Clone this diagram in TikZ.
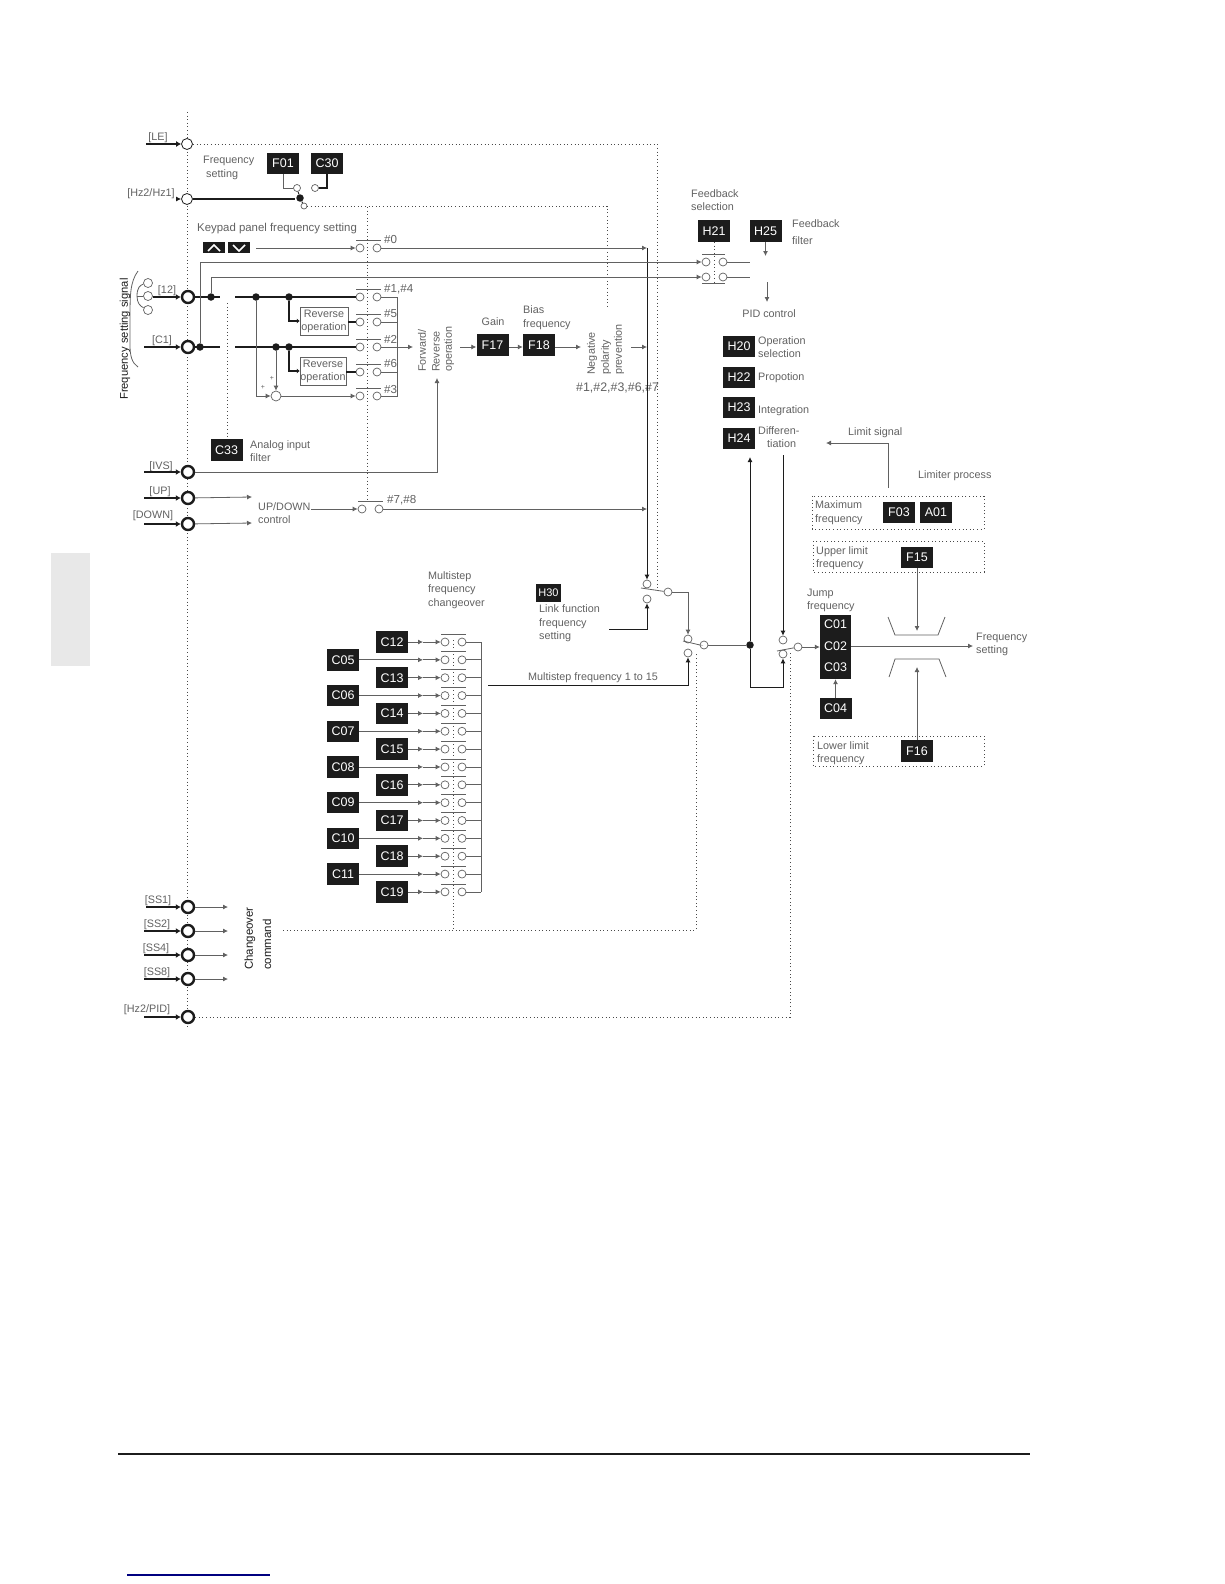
\documentclass[tikz,border=0pt]{standalone}
\usepackage{fontspec}
\setmainfont{Liberation Sans}
\usepackage{xcolor}
\usepackage{tikz}
\usetikzlibrary{arrows.meta,calc}
\definecolor{inkgray}{gray}{0.38}
\definecolor{boxblack}{gray}{0.11}
\tikzset{
  lbl/.style = {anchor=west, inner sep=0pt, align=left, text=inkgray, font=\fontsize{10.8}{13.5}\selectfont},
  tagtxt/.style = {lbl, font=\fontsize{11.6}{14}\selectfont},
  fbox/.style = {fill=boxblack, text=white, inner sep=0pt, minimum width=32pt, minimum height=21.5pt, font=\fontsize{12.5}{14}\selectfont},
  term/.style = {circle, draw=boxblack, fill=white, inner sep=0pt, minimum size=11pt, line width=.8pt},
  termb/.style = {term, line width=2.4pt, minimum size=12pt},
  hole/.style = {circle, draw=inkgray, fill=white, inner sep=0pt, minimum size=8pt, line width=.7pt},
  sdot/.style = {circle, fill=boxblack, inner sep=0pt, minimum size=7.5pt},
  wire/.style = {draw=inkgray, line width=.8pt},
  dark/.style = {draw=boxblack, line width=.9pt},
  feed/.style = {wire, -{Latex[length=5pt,width=5pt]}},
  darkfeed/.style = {dark, -{Latex[length=5pt,width=5pt]}},
  bus/.style = {draw=boxblack, line width=2.3pt},
  stub/.style = {draw=boxblack, line width=2.3pt, -{Latex[length=5pt,width=6pt]}},
  ctrl/.style = {draw=boxblack!80, line width=.8pt, dash pattern=on 1pt off 2.6pt},
  pics/contact/.style = {
    code = {
    \node[hole] (-a) at (0,0) {};
    \node[hole] (-b) at (17,0) {};
    \draw[wire] (-4,-8) -- (21,-8);
    }
  }
}
\begin{document}
\begin{tikzpicture}[x=1pt,y=-1pt]
\useasboundingbox (0,0) rectangle (1224,1584);

\fill[black!9] (50.5,553) rectangle (90,666);
\draw[boxblack, line width=1.1pt] (118,1454) -- (1030,1454);
\draw[blue!50!black, line width=1.1pt] (127,1575) -- (270,1575);

% control lines
\draw[ctrl] (187,112) -- (187,1030);
\draw[ctrl] (367,207) -- (367,502);
\draw[ctrl] (227,303) -- (227,439);
\draw[ctrl] (453,640) -- (453,930);

% input terminals
\foreach \name/\y in {LE/144,HZ/199}
  \node[term] (t\name) at (187,\y) {};
\foreach \name/\y in {TW/297,CI/347,IVS/472,UP/498,DN/524,SA/907,SB/931,SC/955,SD/979,PID/1017}
  \node[termb] (t\name) at (188,\y) {};

\foreach \name/\x/\y/\txt in {LE/158/138/{[LE]},HZ/151/194/{[Hz2/Hz1]},TW/167/291/{[12]},CI/162/341/{[C1]},IVS/161/467/{[IVS]},UP/160/492/{[UP]},DN/153/516/{[DOWN]},SA/158/901/{[SS1]},SB/157/925/{[SS2]},SC/156/949/{[SS4]},SD/157/973/{[SS8]},PID/147/1010/{[Hz2/PID]}}
  \node[lbl, anchor=center] (lab\name) at (\x,\y) {\txt};

\foreach \name/\x in {LE/146,TW/153,CI/144,IVS/144,UP/144,DN/144,SA/146,SB/144,SC/144,SD/144,PID/144}{
  \coordinate (in\name) at (\x,0 |- t\name);
  \draw[stub] (in\name) -- (t\name);
}
\coordinate (inHZ) at (176,199);
\draw[darkfeed] (inHZ) -- (tHZ);

% frequency setting selection
\node[lbl] (fsel) at (203,168) {Frequency\\ \ setting};
\node[fbox] (F01) at (283,163.5) {F01};
\node[fbox] (C30) at (327,163.5) {C30};
\node[hole, minimum size=7pt] (fa) at (297,188) {};
\node[hole, minimum size=7pt] (fb) at (315,188) {};
\node[hole, minimum size=6pt] (fc) at (304,206) {};
\node[sdot] (fj) at (300,198) {};
\coordinate (fin) at (295,199);
\draw[bus] (tHZ) -- (fin);
\draw[wire] (F01) |- (fa);
\draw[bus] (C30.south) |- (fb);
\draw[dark] (fj) -- (fc);
\draw[dark] (fj) -- (fa);
\coordinate (negtop) at (607,309);
\coordinate (levA) at (657,588);
\coordinate (levB) at (696,653);
\coordinate (levC) at (790,652);
\draw[ctrl] (fc) -| (negtop);
\draw[ctrl] (tLE) -| (levA);

% contacts
\foreach \name/\x/\y in {p0/360/248,p1/360/297,p5/360/322,p2/360/347,p6/360/372,p3/360/396,p7/362/509}
  \pic (\name) at (\x,\y) {contact};
\foreach \name/\y/\txt in {p0/240/{\#0},p1/289/{\#1,\#4},p5/314/{\#5},p2/339/{\#2},p6/364/{\#6},p3/390/{\#3}}
  \node[tagtxt] (tag\name) at (384,\y) {\txt};
\node[tagtxt] (tagp7) at (387,500) {\#7,\#8};

% keypad
\node[lbl, font=\fontsize{11.4}{14}\selectfont] (keytxt) at (197,229) {Keypad panel frequency setting};
\node[fbox, minimum width=22pt, minimum height=11pt] (keyup) at (214,247.5) {};
\node[fbox, minimum width=22pt, minimum height=11pt] (keydn) at (239,247.5) {};
\draw[white, line width=1.6pt] (208,251) -- (214,245) -- (220,251);
\draw[white, line width=1.6pt] (233,245) -- (239,251) -- (245,245);
\coordinate (keyout) at (256,248);
\draw[feed] (keyout) -- (p0-a);

% analog inputs
\node[hole, minimum size=9pt] (sg1) at (148,283) {};
\node[hole, minimum size=9pt] (sg2) at (148,296) {};
\node[hole, minimum size=9pt] (sg3) at (148,310) {};
\coordinate (sgfan) at (137,296);
\draw[wire] (sgfan) .. controls (137,288) and (140,285) .. (sg1);
\draw[wire] (sgfan) -- (sg2);
\draw[wire] (sgfan) .. controls (137,303) and (140,306) .. (sg3);
\draw[wire] (138,271) .. controls (130,282) and (130,295) .. (130,320) -- (130,345) .. controls (130,356) and (132,363) .. (138,367);
\node[lbl, rotate=90, text=boxblack, font=\fontsize{11.2}{14}\selectfont] (sigtxt) at (125,400) {Frequency setting signal};

\foreach \name/\x/\y in {j12/211/297,ja/256/297,jb/289/297,j1/200/347,jc/276/347,jd/289/347}
  \node[sdot] (\name) at (\x,\y) {};
\coordinate (twa) at (220,297);
\coordinate (twb) at (235,297);
\coordinate (cia) at (220,347);
\coordinate (cib) at (235,347);
\draw[bus] (tTW) -- (twa);
\draw[bus] (tCI) -- (cia);
\draw[bus] (twb) -- (p1-a);
\draw[bus] (cib) -- (p2-a);

\node[draw=inkgray, lbl, anchor=center, minimum width=48pt, minimum height=28pt, align=center, font=\fontsize{10.8}{13}\selectfont] (rev1) at (324,321) {Reverse\\operation};
\node[draw=inkgray, lbl, anchor=center, minimum width=46pt, minimum height=28pt, align=center, font=\fontsize{10.8}{13}\selectfont] (rev2) at (323,371) {Reverse\\operation};
\draw[bus, -{Latex[length=3pt,width=5pt]}] (jb) |- (rev1);
\draw[bus, -{Latex[length=3pt,width=5pt]}] (jd) |- (rev2);
\draw[bus] (rev1.east |- p5-a) -- (p5-a);
\draw[bus] (rev2.east |- p6-a) -- (p6-a);

\node[hole, minimum size=10pt] (sum) at (276,396) {};
\draw[feed] (ja) |- (sum);
\draw[feed] (jc) -- (sum);
\node[lbl, anchor=center] (plusa) at (272,378) {\scriptsize +};
\node[lbl, anchor=center] (plusb) at (263,387) {\scriptsize +};
\draw[feed] (sum) -- (p3-a);

\coordinate (bustop) at (397,297);
\coordinate (busbot) at (397,396);
\draw[wire] (p1-b) -- (bustop) -- (busbot) -- (p3-b);
\foreach \name in {p5,p6}
  \draw[wire] (\name-b) -| (bustop);
\coordinate (fwdin) at (413,347);
\draw[feed] (p2-b) -- (fwdin);

\node[lbl, rotate=90] (fwd) at (422,372) {Forward/};
\node[lbl, rotate=90] (rvs) at (436,372) {Reverse};
\node[lbl, rotate=90] (opn) at (449,372) {operation};
\coordinate (rvsin) at (437,378);
\draw[feed] (tIVS) -| (rvsin);

% gain and bias
\coordinate (fwdout) at (460,347);
\node[fbox] (F17) at (492.5,345) {F17};
\node[fbox] (F18) at (539,345) {F18};
\node[lbl, anchor=center] (gain) at (493,322) {Gain};
\node[lbl] (bias) at (523,317.5) {Bias\\frequency};
\coordinate (negin) at (581,347);
\draw[feed] (fwdout) -- (fwdout -| F17.west);
\draw[feed] (F17.east |- fwdout) -- (F18.west |- fwdout);
\draw[feed] (F18.east |- fwdout) -- (negin);
\node[lbl, rotate=90] (nega) at (592,375) {Negative};
\node[lbl, rotate=90] (negb) at (606,375) {polarity};
\node[lbl, rotate=90] (negc) at (619,375) {prevention};
\node[tagtxt, font=\fontsize{12.4}{14}\selectfont] (negtag) at (576,388) {\#1,\#2,\#3,\#6,\#7};

% main line
\coordinate (m0) at (647,248);
\coordinate (m3) at (647,347);
\coordinate (m7) at (647,509);
\coordinate (negout) at (631,347);
\node[hole] (sa) at (647,584) {};
\node[hole] (sb) at (647,599) {};
\node[hole] (sc) at (668,592) {};
\draw[feed] (p0-b) -- (m0);
\draw[feed] (negout) -- (m3);
\draw[feed] (p7-b) -- (m7);
\draw[darkfeed] (m0) -- (sa);
\draw[wire] (641,588) -- (sc);

% up/down
\coordinate (upto) at (252,497);
\coordinate (dnto) at (252,523);
\draw[feed] (tUP) -- (upto);
\draw[feed] (tDN) -- (dnto);
\node[lbl] (updn) at (258,513) {UP/DOWN\\control};
\coordinate (updnout) at (311,509);
\draw[feed] (updnout) -- (p7-a);

\node[fbox] (C33) at (226.5,450) {C33};
\node[lbl] (c33txt) at (250,451) {Analog input\\filter};

% multistep
\node[lbl] (mstxt) at (428,590) {Multistep\\frequency\\changeover};
\foreach \name [count=\i] in {C12,C05,C13,C06,C14,C07,C15,C08,C16,C09,C17,C10,C18,C11,C19}{
  \pgfmathsetmacro\y{642+(\i-1)*17.85}
  \pgfmathsetmacro\bx{isodd(\i)?392:343}
  \node[fbox] (\name) at (\bx,\y) {\name};
  \pic (ms\i) at (445,\y) {contact};
  \coordinate (mid\i) at (423,\y);
  \draw[feed] (\name) -- (mid\i);
  \draw[feed] (mid\i) -- (ms\i-a);
  \coordinate (rail\i) at (481,\y);
  \draw[wire] (ms\i-b) -- (rail\i);
}
\draw[wire] (rail1) -- (rail15);

\node[fbox, minimum width=25pt, minimum height=18pt, font=\fontsize{11}{13}\selectfont] (H30) at (548.5,593) {H30};
\node[lbl] (h30txt) at (539,623.5) {Link function\\frequency\\setting};
\coordinate (linkout) at (609,629);
\draw[darkfeed] (linkout) -| (sb);

\node[hole] (sd) at (688,639) {};
\node[hole] (se) at (688,653) {};
\node[hole] (sf) at (704,645) {};
\coordinate (msout) at (488,685);
\draw[darkfeed] (msout) -| (se);
\node[lbl] (mstag) at (528,678) {Multistep frequency 1 to 15};
\draw[feed] (sc) -| (sd);
\draw[wire] (683,641) -- (700,645) -- (sf);

% changeover
\foreach \name/\y in {SA/907,SB/931,SC/955,SD/979}{
  \coordinate (co\name) at (228,\y);
  \draw[feed] (t\name) -- (co\name);
}
\node[lbl, rotate=90, text=boxblack, font=\fontsize{11.5}{14}\selectfont] (chga) at (250,970) {Changeover};
\node[lbl, rotate=90, text=boxblack, font=\fontsize{11.5}{14}\selectfont] (chgb) at (267,970) {command};
\coordinate (chgout) at (283,930);
\draw[ctrl] (chgout) -| (levB);
\draw[ctrl] (tPID) -| (levC);

% feedback and PID
\node[lbl] (fbsel) at (691,200) {Feedback\\selection};
\node[fbox] (H21) at (714,231) {H21};
\node[fbox] (H25) at (765.5,231) {H25};
\node[lbl, font=\fontsize{10.8}{17}\selectfont] (fbfil) at (792,232.5) {Feedback\\filter};
\foreach \name/\y in {fa/262,fb/277}{
  \node[hole] (\name1) at (706,\y) {};
  \node[hole] (\name2) at (723,\y) {};
  \coordinate (\name3) at (750,\y);
  \draw[wire] (\name2) -- (\name3);
}
\draw[wire] (702,254) -- (725,254);
\draw[wire] (702,283) -- (725,283);
\draw[ctrl] (H21) -- (714,283);
\draw[feed] (j12) |- (fb1);
\draw[feed] (j1) |- (fa1);
\coordinate (h25to) at (765.5,256);
\draw[feed] (H25) -- (h25to);
\coordinate (pidfrom) at (767,282);
\coordinate (pidto) at (767,302);
\draw[feed] (pidfrom) -- (pidto);
\node[lbl, anchor=center] (pid) at (769,314) {PID control};

\foreach \name/\y in {H20/346.5,H22/377.5,H23/407.5,H24/438.5}
  \node[fbox] (\name) at (739,\y) {\name};
\node[lbl] (h20txt) at (758,347) {Operation\\selection};
\node[lbl] (h22txt) at (758,378) {Propotion};
\node[lbl] (h23txt) at (758,411) {Integration};
\node[lbl] (h24txt) at (758,437) {Differen-\\ \ \ \ tiation};

% jump and limiter
\node[sdot] (jm) at (750,645) {};
\coordinate (h24to) at (750,457);
\coordinate (dfrom) at (783,455);
\node[hole] (sg) at (783,640) {};
\node[hole] (sh) at (783,654) {};
\node[hole] (si) at (798,647) {};
\coordinate (jbot) at (750,687);
\coordinate (jbor) at (783,687);
\draw[wire] (sf) -- (jm);
\draw[darkfeed] (jm) -- (h24to);
\draw[darkfeed] (dfrom) -- (sg);
\draw[darkfeed] (jm) -- (jbot) -- (jbor) -- (sh);
\draw[wire] (777,651) -- (793,648) -- (si);

\node[fill=boxblack, minimum width=31pt, minimum height=64pt, inner sep=0pt] (jmpbox) at (835.5,647) {};
\foreach \name/\y in {C01/624,C02/646,C03/667}
  \node[lbl, anchor=center, text=white, font=\fontsize{12.5}{14}\selectfont] (\name) at (835.5,\y) {\name};
\node[fbox] (C04) at (835.5,708.5) {C04};
\draw[feed] (si) -- (jmpbox);
\draw[feed] (C04) -- (jmpbox);
\node[lbl] (jmptxt) at (807,600.5) {Jump\\frequency};
\coordinate (outto) at (973,646);
\draw[feed] (jmpbox.east |- outto) -- (outto);
\node[lbl] (outtxt) at (976,644.5) {Frequency\\setting};

\draw[wire] (888,617) -- (895,635) -- (938,635) -- (945,617);
\draw[wire] (889,677) -- (895,659) -- (939,659) -- (946,677);

\coordinate (limfrom) at (888,488);
\coordinate (limto) at (826,443);
\draw[feed] (limfrom) |- (limto);
\node[lbl] (limtxt) at (848,433) {Limit signal};
\node[lbl] (limproc) at (918,476) {Limiter process};

\draw[ctrl] (812,496) rectangle (984,529);
\draw[ctrl] (813,541) rectangle (984,572);
\draw[ctrl] (813,736) rectangle (984,766);
\node[lbl] (maxtxt) at (815,512.5) {Maximum\\frequency};
\node[lbl] (upptxt) at (816,558) {Upper limit\\frequency};
\node[lbl] (lowtxt) at (817,753) {Lower limit\\frequency};
\node[fbox] (F03) at (899,512.5) {F03};
\node[fbox] (A01) at (936,512.5) {A01};
\node[fbox] (F15) at (917,557.5) {F15};
\node[fbox] (F16) at (917,751) {F16};
\coordinate (upto2) at (917,631);
\coordinate (lowto) at (917,667);
\draw[feed] (F15) -- (upto2);
\draw[feed] (F16) -- (lowto);

\end{tikzpicture}
\end{document}
